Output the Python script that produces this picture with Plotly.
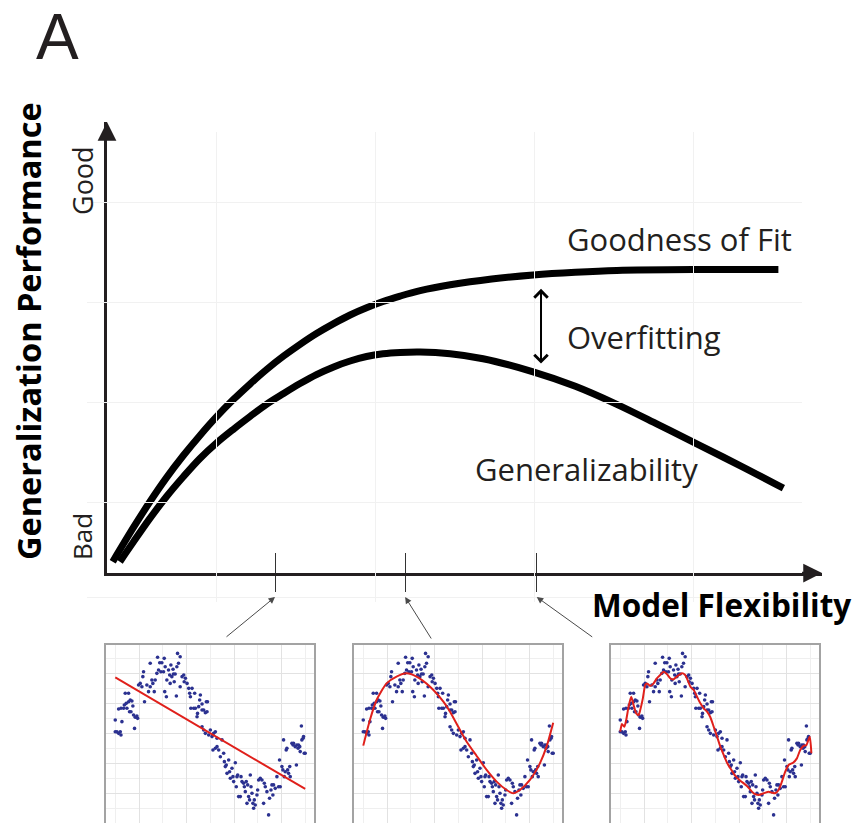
import plotly.graph_objects as go

# ---------------------------------------------------------------------------
# Data
# ---------------------------------------------------------------------------
# Main panel: model flexibility (0-10) vs. generalization performance (0-10)
FIT_X = [0.08, 0.37, 0.60, 0.83, 1.07, 1.30, 1.53, 1.77, 2.00, 2.23, 2.47, 2.70, 2.93,
         3.17, 3.40, 3.63, 3.86, 4.10, 4.38, 4.80, 5.38, 5.96, 6.55, 7.13, 8.29, 9.39]
FIT_Y = [0.25, 1.01, 1.58, 2.11, 2.61, 3.05, 3.46, 3.85, 4.19, 4.51, 4.81, 5.07, 5.31,
         5.53, 5.72, 5.88, 6.02, 6.14, 6.26, 6.39, 6.52, 6.61, 6.67, 6.71, 6.73, 6.73]

GEN_X = [0.18, 0.37, 0.60, 0.83, 1.07, 1.30, 1.53, 1.77, 2.00, 2.23, 2.47, 2.70, 2.93, 3.17,
         3.40, 3.63, 3.86, 4.10, 4.38, 4.80, 5.26, 5.96, 6.55, 7.13, 7.71, 8.29, 8.88, 9.46]
GEN_Y = [0.25, 0.69, 1.21, 1.69, 2.14, 2.54, 2.88, 3.19, 3.47, 3.74, 3.98, 4.20, 4.40, 4.57,
         4.70, 4.80, 4.86, 4.89, 4.90, 4.86, 4.75, 4.46, 4.14, 3.74, 3.29, 2.83, 2.36, 1.88]

# Flexibility levels illustrated by the three example fits
FLEX_LEVELS = [2.35, 4.17, 6.01]

# Overfitting gap marker (flexibility, upper / lower performance)
GAP_X = 6.07
GAP_TOP, GAP_BOTTOM = 6.30, 4.61

# Example data set shared by the three fits
SAMPLE_X = [0.00, 0.00, 0.07, 0.14, 0.21, 0.24, 0.28, 0.14, 0.24, 0.35, 0.42, 0.56, 0.38, 0.46,
            0.56, 0.63, 0.70, 0.49, 0.60, 0.74, 0.66, 0.77, 0.84, 0.94, 0.81, 0.91, 0.98, 1.05,
            1.12, 1.19, 1.16, 1.23, 1.33, 1.40, 1.47, 1.54, 1.47, 1.58, 1.64, 1.68, 1.75, 1.78,
            1.82, 1.87, 1.92, 1.96, 2.03, 2.06, 2.10, 2.08, 2.15, 2.17, 2.24, 2.29, 2.31, 2.34,
            2.38, 2.43, 2.45, 2.48, 2.52, 2.57, 2.59, 2.62, 2.66, 2.73, 2.73, 2.81, 2.88, 2.90,
            2.95, 3.02, 3.09, 3.13, 3.16, 3.18, 3.23, 3.30, 3.34, 3.37, 3.44, 3.46, 3.51, 3.55,
            3.58, 3.65, 3.65, 3.72, 3.79, 3.83, 3.88, 3.86, 3.65, 3.72, 3.79, 3.93, 4.00, 4.07,
            4.14, 4.21, 4.28, 4.11, 4.21, 4.28, 4.35, 4.42, 4.49, 4.56, 4.59, 4.63, 4.67, 4.70,
            4.77, 4.81, 4.84, 4.91, 4.95, 4.98, 5.05, 5.09, 5.12, 5.15, 5.19, 5.26, 5.29, 5.33,
            5.40, 5.43, 5.47, 5.51, 5.54, 5.57, 5.61, 5.65, 5.68, 5.71, 5.75, 5.79, 5.82, 5.85,
            5.89, 5.96, 5.99, 6.03, 6.10, 6.17, 6.24, 6.27, 6.31, 6.38, 6.45, 6.49, 6.55, 6.59,
            6.63, 6.66, 6.73, 6.80, 6.87, 6.91, 6.94, 7.01, 7.05, 7.08, 7.11, 7.15, 7.19, 7.22,
            7.25, 7.29, 7.34, 7.36, 7.43, 7.48, 7.50, 7.57, 7.62, 7.64, 7.69, 7.71, 7.76, 7.78,
            7.83, 7.85, 7.90, 7.92, 7.95, 7.99]
SAMPLE_Y = [5.89, 5.11, 5.11, 5.00, 5.11, 4.89, 5.78, 6.62, 6.67, 6.67, 7.67, 7.67, 6.89, 7.00,
            7.11, 7.22, 7.16, 6.67, 6.44, 6.82, 6.44, 6.22, 6.07, 6.00, 5.33, 6.16, 8.22, 8.33,
            8.11, 9.11, 8.78, 7.11, 8.22, 7.78, 8.11, 8.56, 9.67, 8.33, 7.78, 8.56, 9.00, 10.07,
            9.22, 9.71, 9.11, 9.71, 9.11, 10.00, 9.44, 7.78, 7.44, 8.56, 9.22, 8.89, 8.33, 9.56,
            8.78, 9.27, 8.96, 8.44, 8.96, 7.49, 9.44, 10.33, 9.67, 10.11, 8.11, 8.78, 8.89, 8.44,
            8.67, 8.33, 8.00, 7.67, 7.44, 6.67, 8.00, 6.67, 7.67, 6.67, 6.11, 6.33, 6.78, 7.22,
            7.56, 6.56, 6.96, 6.56, 6.38, 7.11, 7.11, 6.44, 5.44, 5.22, 5.00, 4.89, 5.22, 4.78,
            5.00, 5.11, 4.67, 3.89, 4.00, 4.11, 3.89, 3.44, 4.56, 3.67, 3.11, 2.78, 2.89, 2.33,
            3.22, 2.44, 2.00, 2.67, 2.11, 1.78, 3.04, 1.44, 2.11, 2.22, 0.78, 0.78, 2.11, 1.78,
            1.67, 1.44, 1.11, 1.78, 0.33, 1.56, 0.78, 0.56, 2.22, 1.44, 1.00, 0.33, 0.00, 0.56,
            0.22, 0.89, 1.22, 1.89, 2.00, 1.89, 0.33, 1.67, 1.44, 1.11, -0.44, 0.67, 1.22, 1.56,
            0.89, 1.56, 1.33, 2.11, 1.44, 3.22, 1.44, 2.78, 2.56, 4.56, 2.11, 2.44, 3.89, 4.00,
            2.56, 2.33, 2.78, 2.11, 4.33, 4.22, 4.33, 4.11, 2.89, 4.22, 4.00, 4.22, 4.11, 3.78,
            5.49, 4.56, 4.67, 4.78, 3.67, 3.67]

# Low flexibility: straight-line fit
LINEAR_X = [0.00, 7.99]
LINEAR_Y = [8.73, 1.29]

# Medium flexibility: smooth fit
SMOOTH_X = [0.00, 0.28, 0.56, 0.98, 1.40, 1.82, 2.24, 2.81, 3.37, 3.65, 4.07, 4.35, 4.77,
            5.19, 5.61, 6.03, 6.31, 6.59, 7.01, 7.43, 7.71, 7.99]
SMOOTH_Y = [4.18, 5.89, 7.22, 8.33, 8.78, 9.00, 8.78, 8.11, 7.11, 6.44, 5.22, 4.44, 3.49,
            2.56, 1.78, 1.22, 1.00, 1.22, 1.89, 3.00, 4.11, 5.71]

# High flexibility: wiggly fit
WIGGLY_X = [0.00, 0.07, 0.17, 0.25, 0.35, 0.46, 0.56, 0.67, 0.77, 0.84, 0.95, 1.05, 1.12,
            1.26, 1.40, 1.54, 1.68, 1.82, 1.96, 2.10, 2.24, 2.38, 2.59, 2.73, 2.83, 2.95,
            3.09, 3.23, 3.37, 3.51, 3.65, 3.79, 3.93, 4.07, 4.21, 4.35, 4.49, 4.66, 4.84,
            5.05, 5.33, 5.61, 5.82, 6.03, 6.24, 6.38, 6.52, 6.66, 6.80, 6.94, 7.08, 7.27,
            7.43, 7.57, 7.71, 7.83, 7.97, 8.04]
WIGGLY_Y = [5.11, 5.62, 5.44, 5.89, 6.78, 7.44, 6.89, 6.33, 6.22, 6.56, 7.33, 8.22, 8.33,
            8.16, 8.33, 8.67, 8.89, 9.11, 8.96, 8.67, 8.60, 8.78, 9.00, 8.89, 8.56, 8.11,
            7.89, 7.44, 7.00, 6.67, 6.44, 6.07, 5.44, 4.78, 4.11, 3.56, 3.04, 2.60, 2.16,
            1.84, 1.49, 1.00, 0.89, 1.00, 1.11, 1.04, 1.00, 1.22, 1.78, 2.44, 2.89, 3.04,
            3.33, 3.89, 4.16, 4.22, 4.78, 3.67]

# ---------------------------------------------------------------------------
# Page geometry and styling
# ---------------------------------------------------------------------------
W, H = 856, 823
INK = "#231f20"
FONT = "Open Sans, Noto Sans, sans-serif"


def fx(px):
    return px / W


def fy(py):
    return 1 - py / H


fig = go.Figure()

# faint backdrop grid behind the main panel
fig.add_trace(go.Scatter(x=[0], y=[0], xaxis="x3", yaxis="y3", mode="markers",
                         marker=dict(opacity=0), hoverinfo="skip", showlegend=False))

# performance curves
for cx, cy in ((FIT_X, FIT_Y), (GEN_X, GEN_Y)):
    fig.add_trace(go.Scatter(x=cx, y=cy, mode="lines", xaxis="x", yaxis="y",
                             line=dict(color="#000000", width=7, shape="spline", smoothing=1.0),
                             hoverinfo="skip", showlegend=False))

# carrier for the upward half of the flexibility tick marks
fig.add_trace(go.Scatter(x=[FLEX_LEVELS[0]], y=[0], xaxis="x2", yaxis="y", mode="markers",
                         marker=dict(opacity=0), hoverinfo="skip", showlegend=False))

# three example fits
insets = [
    (106, LINEAR_X, LINEAR_Y, "linear"),
    (354, SMOOTH_X, SMOOTH_Y, "spline"),
    (611, WIGGLY_X, WIGGLY_Y, "spline"),
]
for i, (left, fit_x, fit_y, shape) in enumerate(insets):
    n = i + 4
    fig.add_trace(go.Scatter(x=SAMPLE_X, y=SAMPLE_Y, mode="markers",
                             xaxis=f"x{n}", yaxis=f"y{n}",
                             marker=dict(color="#2b3190", size=3.6, line=dict(width=0)),
                             hoverinfo="skip", showlegend=False))
    fig.add_trace(go.Scatter(x=fit_x, y=fit_y, mode="lines",
                             xaxis=f"x{n}", yaxis=f"y{n}",
                             line=dict(color="#e0201b", width=2, shape=shape, smoothing=0.6),
                             hoverinfo="skip", showlegend=False))

layout = dict(
    width=W, height=H, autosize=False,
    margin=dict(l=0, r=0, t=0, b=0),
    paper_bgcolor="white", plot_bgcolor="rgba(0,0,0,0)",
    showlegend=False,
    font=dict(family=FONT, color=INK),
    xaxis=dict(domain=[fx(107), fx(822)], range=[0, 10], anchor="y",
               showline=True, linecolor=INK, linewidth=2.5, showgrid=False, zeroline=False,
               tickvals=FLEX_LEVELS, ticks="outside", ticklen=16, tickwidth=1.2,
               tickcolor="#333333", showticklabels=False, fixedrange=True),
    xaxis2=dict(overlaying="x", range=[0, 10], anchor="y", side="bottom",
                showline=False, showgrid=False, zeroline=False,
                tickvals=FLEX_LEVELS, ticks="inside", ticklen=20, tickwidth=1.2,
                tickcolor="#333333", showticklabels=False, fixedrange=True),
    yaxis=dict(domain=[fy(573), fy(122)], range=[0, 10], anchor="x",
               showline=True, linecolor=INK, linewidth=2.5, showgrid=False, zeroline=False,
               ticks="", showticklabels=False, fixedrange=True),
    xaxis3=dict(domain=[fx(87), fx(802)], range=[-0.819, 3.686], anchor="y3",
                tickvals=[0, 1, 2, 3], showgrid=True, gridcolor="#f1f1f1", gridwidth=1,
                showline=False, zeroline=False, ticks="", showticklabels=False),
    yaxis3=dict(domain=[fy(602), fy(132)], range=[0, 4.7], anchor="x3",
                tickvals=[0.05, 1, 2, 3, 4], showgrid=True, gridcolor="#f1f1f1", gridwidth=1,
                showline=False, zeroline=False, ticks="", showticklabels=False),
)

for i, (left, _, _, _) in enumerate(insets):
    n = i + 4
    layout[f"xaxis{n}"] = dict(
        domain=[fx(left), fx(left + 208)], range=[-0.39, 8.36], anchor=f"y{n}",
        tickvals=[1, 3, 5, 7], showgrid=True, gridcolor="#e2e2e2", gridwidth=1,
        minor=dict(tickvals=[0, 2, 4, 6, 8], showgrid=True, gridcolor="#efefef"),
        showline=True, side="top", linecolor="#a3a3a3", linewidth=1.5,
        zeroline=False, ticks="", showticklabels=False, fixedrange=True)
    layout[f"yaxis{n}"] = dict(
        domain=[0, fy(645)], range=[-0.98, 10.89], anchor=f"x{n}",
        tickvals=[1, 3, 5, 7, 9], showgrid=True, gridcolor="#e2e2e2", gridwidth=1,
        minor=dict(tickvals=[0, 2, 4, 6, 8, 10], showgrid=True, gridcolor="#efefef"),
        showline=True, mirror=True, linecolor="#a3a3a3", linewidth=1.5,
        zeroline=False, ticks="", showticklabels=False, fixedrange=True)

annotations = [
    # axis arrowheads
    dict(x=0, y=10, ax=0, ay=9.6, xref="x", yref="y", axref="x", ayref="y",
         showarrow=True, arrowhead=2, arrowsize=1.5, arrowwidth=2.5, arrowcolor=INK, text=""),
    dict(x=10, y=0, ax=9.7, ay=0, xref="x", yref="y", axref="x", ayref="y",
         showarrow=True, arrowhead=2, arrowsize=1.5, arrowwidth=2.5, arrowcolor=INK, text=""),
    # overfitting gap
    dict(x=GAP_X, y=GAP_TOP, ax=GAP_X, ay=GAP_BOTTOM, xref="x", yref="y", axref="x",
         ayref="y", showarrow=True, arrowhead=4, arrowsize=1.3, arrowwidth=2,
         arrowside="end+start", startarrowhead=4, startarrowsize=1.3, arrowcolor="#000000",
         text=""),
    # curve labels
    dict(x=6.41, y=7.40, xref="x", yref="y", text="Goodness of Fit", showarrow=False,
         xanchor="left", yanchor="middle", font=dict(size=31, family=FONT, color=INK)),
    dict(x=6.41, y=5.24, xref="x", yref="y", text="Overfitting", showarrow=False,
         xanchor="left", yanchor="middle", font=dict(size=31, family=FONT, color=INK)),
    dict(x=5.12, y=2.31, xref="x", yref="y", text="Generalizability", showarrow=False,
         xanchor="left", yanchor="middle", font=dict(size=31, family=FONT, color=INK)),
    # axis titles
    dict(x=fx(28), y=fy(331), xref="paper", yref="paper", showarrow=False,
         text="<b>Generalization Performance</b>", textangle=-90,
         xanchor="center", yanchor="middle", font=dict(size=32.5, family=FONT, color="#000000")),
    dict(x=fx(590), y=fy(604), xref="paper", yref="paper", showarrow=False,
         text="<b>Model Flexibility</b>", xanchor="left", yanchor="middle",
         font=dict(size=31.5, family=FONT, color="#000000")),
    dict(x=fx(82), y=fy(181), xref="paper", yref="paper", showarrow=False, text="Good",
         textangle=-90, xanchor="center", yanchor="middle",
         font=dict(size=27, family=FONT, color=INK)),
    dict(x=fx(82), y=fy(537), xref="paper", yref="paper", showarrow=False, text="Bad",
         textangle=-90, xanchor="center", yanchor="middle",
         font=dict(size=26, family=FONT, color=INK)),
    # panel letter, kept inside the top edge of the page
    dict(x=fx(58), y=1, xref="paper", yref="paper", showarrow=False, text="A",
         xanchor="center", yanchor="top", borderpad=0,
         font=dict(size=64, family="Liberation Sans, Arial, sans-serif", color=INK)),
]

# pointers from each example fit up to its flexibility level
pointer_offsets = [(-50, 41), (27, 43), (57, 41)]
for lvl, (dx, dy) in zip(FLEX_LEVELS, pointer_offsets):
    annotations.append(dict(x=lvl, y=fy(597), xref="x", yref="paper", ax=dx, ay=dy,
                            showarrow=True, arrowhead=2, arrowsize=1.3, arrowwidth=1,
                            arrowcolor="#4a4a4a", text=""))

layout["annotations"] = annotations
fig.update_layout(**layout)

fig.write_html("out.html", include_plotlyjs=True, config={"displayModeBar": False})
